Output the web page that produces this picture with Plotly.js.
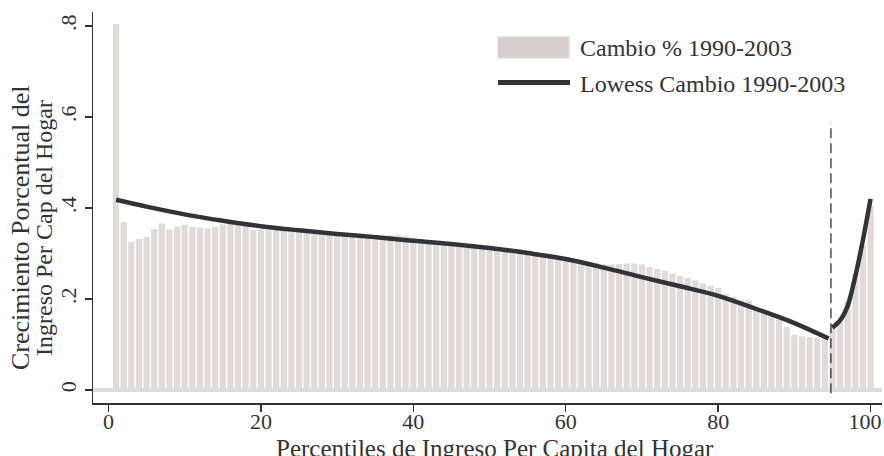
<!DOCTYPE html>
<html>
<head>
<meta charset="utf-8">
<script src="https://cdn.plot.ly/plotly-3.0.1.min.js"></script>
<style>html,body{margin:0;padding:0;background:#fff;}#chart{width:884px;height:456px;}</style>
</head>
<body>
<div id="chart"></div>
<script>
// Percentiles 1..100 (categories)
const percentiles = [];
for (let p = 1; p <= 100; p++) percentiles.push(p);

// Cambio % 1990-2003, by percentile
const cambio = [
  0.804, 0.369, 0.325, 0.332, 0.337, 0.354, 0.366, 0.352, 0.359, 0.363,
  0.359, 0.357, 0.355, 0.359, 0.364, 0.366, 0.362, 0.360, 0.352, 0.353,
  0.352, 0.352, 0.351, 0.349, 0.348, 0.347, 0.345, 0.343, 0.341, 0.340,
  0.339, 0.338, 0.337, 0.336, 0.336, 0.337, 0.340, 0.341, 0.339, 0.335,
  0.332, 0.329, 0.326, 0.323, 0.320, 0.318, 0.315, 0.313, 0.311, 0.309,
  0.307, 0.306, 0.307, 0.307, 0.306, 0.303, 0.299, 0.294, 0.290, 0.286,
  0.283, 0.281, 0.280, 0.279, 0.276, 0.276, 0.277, 0.278, 0.278, 0.276,
  0.270, 0.266, 0.262, 0.256, 0.251, 0.246, 0.241, 0.234, 0.229, 0.224,
  0.211, 0.205, 0.197, 0.196, 0.183, 0.170, 0.162, 0.155, 0.139, 0.121,
  0.118, 0.116, 0.115, 0.115, 0.137, 0.150, 0.195, 0.255, 0.318, 0.405
];

// Lowess Cambio 1990-2003 (two segments)
const lowessX1 = [1, 5, 10, 15, 20, 25, 30, 35, 40, 45, 50, 55, 60, 65, 70, 75, 80, 85, 90, 94.5];
const lowessY1 = [0.418, 0.403, 0.386, 0.372, 0.360, 0.351, 0.343, 0.336, 0.328, 0.321,
                  0.312, 0.301, 0.288, 0.269, 0.248, 0.228, 0.207, 0.178, 0.147, 0.113];
const lowessX2 = [95, 96, 97, 98, 99, 100];
const lowessY2 = [0.137, 0.153, 0.185, 0.250, 0.330, 0.420];

const cutoff = 94.8;
const cutoffTop = 0.587;

const yTickVals = [0, 0.2, 0.4, 0.6, 0.8];
const yTickText = ['0', '.2', '.4', '.6', '.8'];
const xTickVals = [0, 20, 40, 60, 80, 100];
const xTickText = ['0', '20', '40', '60', '80', '100\u00a0\u00a0'];

const barColor = '#e0dbd8';
const lineColor = '#333337';
const axisColor = '#333333';
const FONT = 'Liberation Serif, Times New Roman, serif';

const traces = [
  {type: 'bar', x: percentiles, y: cambio, name: 'Cambio % 1990-2003',
   marker: {color: barColor, line: {width: 0}}, showlegend: false, hoverinfo: 'x+y'},
  {type: 'scatter', mode: 'lines', x: lowessX1, y: lowessY1, name: 'Lowess Cambio 1990-2003',
   line: {color: lineColor, width: 4.5, shape: 'spline', smoothing: 1}, showlegend: false},
  {type: 'scatter', mode: 'lines', x: lowessX2, y: lowessY2, name: 'Lowess Cambio 1990-2003 (2)',
   line: {color: lineColor, width: 4.5, shape: 'spline', smoothing: 0.8}, showlegend: false}
];

const L = 93, R = 2, T = 12, B = 53;
const W = 884 - L - R, H = 456 - T - B;
const px2x = px => (px - L) / W;
const py2y = py => (456 - B - py) / H;

const layout = {
  width: 884, height: 456,
  margin: {l: L, r: R, t: T, b: B, pad: 0},
  paper_bgcolor: '#ffffff', plot_bgcolor: '#ffffff',
  font: {family: FONT, color: '#333333', size: 22},
  bargap: 0.18,
  showlegend: false,
  xaxis: {
    range: [-2.03, 101.5], tickvals: xTickVals, ticktext: xTickText, ticks: 'outside', ticklen: 7, tickwidth: 1.5,
    tickcolor: axisColor, showline: true, linecolor: axisColor, linewidth: 1.5,
    showgrid: false, zeroline: false, ticklabeloverflow: 'allow', ticklabelstandoff: -9,
    tickfont: {family: FONT, size: 22, color: '#333333'}
  },
  yaxis: {
    range: [-0.0286, 0.8308], tickvals: yTickVals, ticktext: yTickText, tickangle: -90,
    ticks: 'outside', ticklen: 7, tickwidth: 1.5, tickcolor: axisColor,
    showline: true, linecolor: axisColor, linewidth: 1.5,
    showgrid: false, zeroline: false, tickfont: {family: FONT, size: 22, color: '#333333'}
  },
  shapes: [
    {type: 'line', xref: 'paper', yref: 'y', x0: 0, x1: 1, y0: 0, y1: 0,
     line: {color: '#dcdce6', width: 4}, layer: 'above'},
    {type: 'line', xref: 'x', yref: 'y', x0: cutoff, x1: cutoff, y0: -0.007, y1: cutoffTop,
     line: {color: '#222222', width: 1.2, dash: '10px,5px'}, layer: 'above'},
    {type: 'rect', xref: 'paper', yref: 'paper', x0: px2x(498), x1: px2x(569), y0: py2y(58), y1: py2y(37),
     fillcolor: '#d6cecb', line: {color: '#e2dcda', width: 1.5}},
    {type: 'line', xref: 'paper', yref: 'paper', x0: px2x(498), x1: px2x(570), y0: py2y(82.5), y1: py2y(82.5),
     line: {color: lineColor, width: 5}}
  ],
  annotations: [
    {text: 'Cambio % 1990-2003', xref: 'paper', yref: 'paper', x: px2x(578), y: py2y(48),
     xanchor: 'left', yanchor: 'middle', showarrow: false, font: {family: FONT, size: 24, color: '#333333'}},
    {text: 'Lowess Cambio 1990-2003', xref: 'paper', yref: 'paper', x: px2x(578), y: py2y(84),
     xanchor: 'left', yanchor: 'middle', showarrow: false, font: {family: FONT, size: 24, color: '#333333'}},
    {text: 'Percentiles de Ingreso Per Capita del Hogar', xref: 'paper', yref: 'paper', x: px2x(495), y: py2y(448),
     xanchor: 'center', yanchor: 'middle', showarrow: false, font: {family: FONT, size: 25, color: '#333333'}},
    {text: 'Crecimiento Porcentual del', xref: 'paper', yref: 'paper', x: px2x(21), y: py2y(228),
     xanchor: 'center', yanchor: 'middle', textangle: -90, showarrow: false, font: {family: FONT, size: 26, color: '#333333'}},
    {text: 'Ingreso Per Cap del Hogar', xref: 'paper', yref: 'paper', x: px2x(44), y: py2y(228),
     xanchor: 'center', yanchor: 'middle', textangle: -90, showarrow: false, font: {family: FONT, size: 24, color: '#333333'}}
  ]
};

Plotly.newPlot('chart', traces, layout, {displayModeBar: false, staticPlot: true});
</script>
</body>
</html>
